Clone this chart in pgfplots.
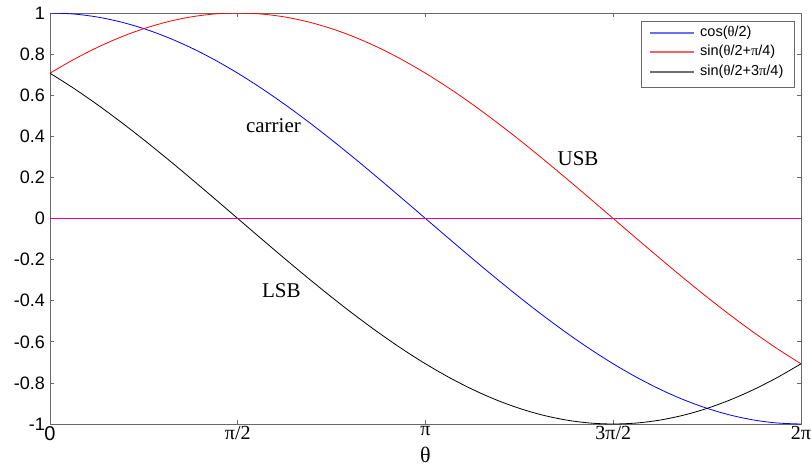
\documentclass[border=0pt]{standalone}
\usepackage{fontspec}
\setmainfont{Liberation Serif}
\setsansfont{Liberation Sans}
\usepackage{pgfplots}
\pgfplotsset{compat=1.18}
\usepackage{pgfplotstable}
\definecolor{axgray}{RGB}{105,105,105}
\definecolor{cblue}{RGB}{0,0,255}
\definecolor{lgblue}{RGB}{110,110,245}
\definecolor{lgred}{RGB}{240,100,100}
\definecolor{lggray}{RGB}{110,110,110}
\pgfplotstableread{
k c u l
0 1 0.70711 0.70711
1 0.99518 0.77301 0.63439
2 0.98079 0.83147 0.55557
3 0.95694 0.88192 0.47140
4 0.92388 0.92388 0.38268
5 0.88192 0.95694 0.29028
6 0.83147 0.98079 0.19509
7 0.77301 0.99518 0.09802
8 0.70711 1 0
9 0.63439 0.99518 -0.09802
10 0.55557 0.98079 -0.19509
11 0.47140 0.95694 -0.29028
12 0.38268 0.92388 -0.38268
13 0.29028 0.88192 -0.47140
14 0.19509 0.83147 -0.55557
15 0.09802 0.77301 -0.63439
16 0 0.70711 -0.70711
17 -0.09802 0.63439 -0.77301
18 -0.19509 0.55557 -0.83147
19 -0.29028 0.47140 -0.88192
20 -0.38268 0.38268 -0.92388
21 -0.47140 0.29028 -0.95694
22 -0.55557 0.19509 -0.98079
23 -0.63439 0.09802 -0.99518
24 -0.70711 0 -1
25 -0.77301 -0.09802 -0.99518
26 -0.83147 -0.19509 -0.98079
27 -0.88192 -0.29028 -0.95694
28 -0.92388 -0.38268 -0.92388
29 -0.95694 -0.47140 -0.88192
30 -0.98079 -0.55557 -0.83147
31 -0.99518 -0.63439 -0.77301
32 -1 -0.70711 -0.70711
}\data
\begin{document}
\begin{tikzpicture}
\useasboundingbox (-50pt,-43pt) rectangle (761pt,424pt);
\begin{axis}[
  at={(0,0)}, anchor=south west,
  scale only axis, width=751pt, height=411pt,
  xmin=0, xmax=32, ymin=-1, ymax=1,
  xtick={0,8,16,24,32},
  xticklabels={{\sffamily 0},π/2,π,3π/2,2π},
  ytick={-1,-0.8,-0.6,-0.4,-0.2,0,0.2,0.4,0.6,0.8,1},
  yticklabels={-1,-0.8,-0.6,-0.4,-0.2,0,0.2,0.4,0.6,0.8,1},
  tick align=inside, major tick length=4pt,
  tick style={axgray, line width=0.8pt},
  axis line style={axgray, line width=0.8pt},
  xticklabel style={font=\fontsize{20}{22}\selectfont, inner sep=2pt},
  yticklabel style={font=\sffamily\fontsize{18}{20}\selectfont, inner sep=2pt, xshift=-3pt},
  xlabel={θ},
  xlabel style={at={(axis description cs:0.5,0)}, anchor=center, inner sep=0pt,
    yshift=-31pt, font=\fontsize{22}{24}\selectfont},
]
\addplot[cblue, line width=0.8pt, smooth] table[x=k, y=c] {\data};
\addplot[red, line width=0.8pt, smooth] table[x=k, y=u] {\data};
\addplot[black, line width=0.8pt, smooth] table[x=k, y=l] {\data};
\addplot[magenta, line width=0.8pt] coordinates {(0,0) (32,0)};
\node[anchor=base, font=\fontsize{21}{24}\selectfont] at (axis cs:9.52,0.4185) {carrier};
\node[anchor=base, font=\fontsize{21}{24}\selectfont] at (axis cs:22.5,0.258) {USB};
\node[anchor=base, font=\fontsize{21}{24}\selectfont] at (axis cs:9.86,-0.384) {LSB};
\end{axis}
% legend
\draw[axgray, line width=0.8pt, fill=white] (591pt,337pt) rectangle (744pt,403pt);
\draw[lgblue, line width=1.2pt] (600pt,391pt) -- (644pt,391pt);
\draw[lgred, line width=1.2pt] (600pt,372pt) -- (644pt,372pt);
\draw[lggray, line width=1.2pt] (600pt,352pt) -- (644pt,352pt);
\begin{scope}[every node/.style={anchor=west, inner sep=0pt, font=\sffamily\fontsize{14.5}{16}\selectfont}]
\node at (650pt,391pt) {cos({\rmfamily θ}/2)};
\node at (650pt,372pt) {sin({\rmfamily θ}/2+{\rmfamily π}/4)};
\node at (650pt,352pt) {sin({\rmfamily θ}/2+3{\rmfamily π}/4)};
\end{scope}
\end{tikzpicture}
\end{document}
